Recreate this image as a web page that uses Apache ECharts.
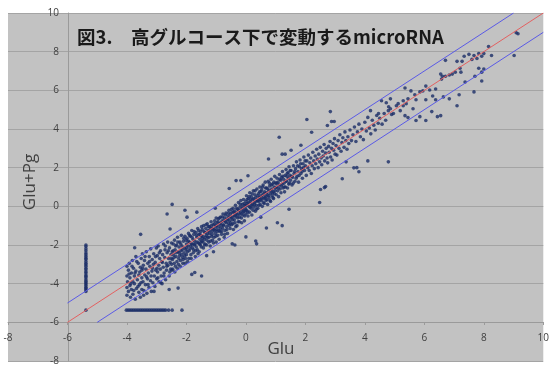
<!DOCTYPE html>
<html><head><meta charset="utf-8">
<script src="https://cdn.jsdelivr.net/npm/echarts@6/dist/echarts.min.js"></script>
<style>html,body{margin:0;padding:0;background:#fff}#c{width:552px;height:366px}</style>
</head><body><div id="c"></div>
<script>
const titleText = '図3.　高グルコース下で変動するmicroRNA';
const xName = 'Glu';
const yName = 'Glu+Pg';
const xTicks = [-8,-6,-4,-2,0,2,4,6,8,10];
const yTicks = [-8,-6,-4,-2,0,2,4,6,8,10];

const lineEqual = [[-6,-6],[10,10]];
const lineUpper = [[-6,-5],[9,10]];
const lineLower = [[-5,-6],[10,9]];

const columnPts = [[-5.38,-2.0],[-5.38,-2.08],[-5.38,-2.2],[-5.38,-2.3],[-5.38,-2.42],[-5.38,-2.5],[-5.38,-2.6],[-5.38,-2.68],[-5.38,-2.75],[-5.38,-2.85],[-5.38,-2.95],[-5.38,-3.02],[-5.38,-3.1],[-5.38,-3.2],[-5.38,-3.28],[-5.38,-3.38],[-5.38,-3.45],[-5.38,-3.55],[-5.38,-3.62],[-5.38,-3.7],[-5.38,-3.8],[-5.38,-3.88],[-5.38,-3.95],[-5.38,-4.02],[-5.38,-4.1],[-5.38,-4.18],[-5.38,-4.25],[-5.38,-4.32],[-5.38,-4.4],[-5.38,-5.37]];

const rowPts = [[-4.02,-5.37],[-3.96,-5.37],[-3.9,-5.37],[-3.84,-5.37],[-3.78,-5.37],[-3.72,-5.37],[-3.66,-5.37],[-3.6,-5.37],[-3.54,-5.37],[-3.48,-5.37],[-3.42,-5.37],[-3.36,-5.37],[-3.3,-5.37],[-3.24,-5.37],[-3.18,-5.37],[-3.12,-5.37],[-3.06,-5.37],[-3.0,-5.37],[-2.94,-5.37],[-2.88,-5.37],[-2.82,-5.37],[-2.76,-5.37],[-2.7,-5.37],[-2.6,-5.37],[-2.48,-5.37],[-2.15,-5.37]];

const lowCloud = [[-4.0,-3.1],[-4.0,-3.6],[-4.0,-4.2],[-4.0,-4.6],[-3.98,-3.9],[-3.95,-3.3],[-3.95,-4.4],[-3.92,-2.95],[-3.9,-3.7],[-3.9,-4.1],[-3.88,-4.7],[-3.85,-3.45],[-3.85,-4.3],[-3.82,-2.8],[-3.8,-3.9],[-3.8,-4.55],[-3.78,-3.2],[-3.75,-4.0],[-3.75,-3.6],[-3.72,-4.8],[-3.7,-2.6],[-3.7,-3.35],[-3.68,-4.25],[-3.65,-3.8],[-3.62,-2.95],[-3.6,-4.45],[-3.6,-3.55],[-3.58,-4.05],[-3.55,-3.15],[-3.55,-4.7],[-3.52,-2.7],[-3.5,-3.7],[-3.5,-4.3],[-3.5,-3.3],
[-3.48,-2.45],[-3.46,-3.9],[-3.45,-3.05],[-3.43,-4.35],[-3.41,-2.8],[-3.4,-3.55],[-3.38,-4.05],[-3.36,-3.25],[-3.35,-2.35],[-3.33,-4.5],[-3.31,-3.75],[-3.3,-2.95],[-3.28,-3.45],[-3.26,-4.2],[-3.25,-2.6],[-3.23,-3.1],[-3.21,-3.85],[-3.2,-2.2],[-3.18,-4.4],[-3.16,-3.35],[-3.15,-2.75],[-3.13,-3.95],[-3.11,-3.0],[-3.1,-2.45],[-3.08,-3.6],[-3.06,-4.15],[-3.05,-2.9],[-3.03,-3.3],[-3.01,-2.15],[-3.0,-3.75],
[-2.98,-2.55],[-2.97,-3.4],[-2.95,-2.05],[-2.93,-3.05],[-2.92,-3.9],[-2.9,-2.7],[-2.88,-3.25],[-2.87,-2.3],[-2.85,-3.6],[-2.83,-2.85],[-2.82,-4.0],[-2.8,-2.5],[-2.78,-3.15],[-2.77,-1.95],[-2.75,-3.45],[-2.73,-2.65],[-2.72,-2.25],[-2.7,-3.8],[-2.68,-2.95],[-2.67,-3.3],[-2.65,-2.4],[-2.63,-1.85],[-2.62,-3.05],[-2.6,-2.7],[-2.58,-3.6],[-2.57,-2.15],[-2.55,-2.9],[-2.53,-3.25],[-2.52,-2.5],[-2.5,-1.9],[-2.5,-3.0],[-2.48,-2.35],
[-3.93,-3.5],[-3.87,-4.0],[-3.83,-3.1],[-3.77,-4.35],[-3.73,-3.45],[-3.67,-2.85],[-3.63,-4.15],[-3.57,-3.4],[-3.53,-3.95],[-3.47,-3.2],[-3.44,-4.6],[-3.39,-2.6],[-3.34,-3.65],[-3.29,-4.05],[-3.24,-2.85],[-3.19,-3.6],[-3.14,-3.2],[-3.09,-4.4],[-3.04,-2.6],[-2.99,-3.2],[-2.96,-3.7],[-2.91,-2.4],[-2.86,-3.95],[-2.81,-2.9],[-2.76,-3.6],[-2.71,-2.05],[-2.66,-3.1],[-2.61,-2.3],[-2.56,-3.4],[-2.51,-2.7]];

const midCloud = [[-2.47,-2.75],[-2.46,-3.25],[-2.44,-1.95],[-2.43,-2.5],[-2.41,-2.95],[-2.4,-1.75],[-2.38,-2.25],[-2.37,-3.1],[-2.35,-2.6],[-2.33,-2.0],[-2.32,-2.85],[-2.3,-1.6],[-2.28,-2.35],[-2.27,-3.0],[-2.25,-2.1],[-2.23,-2.55],[-2.22,-1.85],[-2.2,-2.8],[-2.18,-2.3],[-2.17,-1.5],[-2.15,-2.05],[-2.13,-2.65],[-2.12,-2.95],[-2.1,-1.8],[-2.08,-2.4],[-2.07,-2.15],[-2.05,-1.55],[-2.03,-2.7],[-2.02,-2.25],[-2.0,-1.95],[-2.0,-2.5],
[-1.98,-1.65],[-1.97,-2.35],[-1.95,-2.05],[-1.93,-1.4],[-1.92,-2.7],[-1.9,-1.85],[-1.88,-2.2],[-1.87,-1.55],[-1.85,-2.5],[-1.83,-1.95],[-1.82,-1.25],[-1.8,-2.15],[-1.78,-1.7],[-1.77,-2.4],[-1.75,-1.45],[-1.73,-2.0],[-1.72,-1.8],[-1.7,-2.6],[-1.68,-1.35],[-1.67,-2.1],[-1.65,-1.6],[-1.63,-2.25],[-1.62,-1.15],[-1.6,-1.9],[-1.58,-1.45],[-1.57,-2.35],[-1.55,-1.7],[-1.53,-2.0],[-1.52,-1.3],[-1.5,-1.55],[-1.5,-2.1],
[-1.48,-1.8],[-1.47,-1.2],[-1.45,-1.55],[-1.43,-2.15],[-1.42,-1.0],[-1.4,-1.7],[-1.38,-1.35],[-1.37,-1.95],[-1.35,-1.15],[-1.33,-1.5],[-1.32,-2.0],[-1.3,-0.9],[-1.28,-1.6],[-1.27,-1.25],[-1.25,-1.85],[-1.23,-1.05],[-1.22,-1.4],[-1.2,-2.05],[-1.18,-1.15],[-1.17,-0.8],[-1.15,-1.55],[-1.13,-1.3],[-1.12,-1.75],[-1.1,-0.95],[-1.08,-1.2],[-1.07,-1.6],[-1.05,-0.75],[-1.03,-1.4],[-1.02,-1.05],[-1.0,-1.85],[-1.0,-0.6],
[-0.98,-1.2],[-0.97,-0.85],[-0.95,-1.5],[-0.93,-0.65],[-0.92,-1.05],[-0.9,-1.7],[-0.88,-0.9],[-0.87,-1.3],[-0.85,-0.55],[-0.83,-1.0],[-0.82,-1.45],[-0.8,-0.75],[-0.78,-1.15],[-0.77,-0.4],[-0.75,-0.95],[-0.73,-1.6],[-0.72,-0.6],[-0.7,-1.25],[-0.68,-0.8],[-0.67,-0.35],[-0.65,-1.05],[-0.63,-0.65],[-0.62,-1.4],[-0.6,-0.5],[-0.58,-0.9],[-0.57,-0.2],[-0.55,-0.75],[-0.53,-1.15],[-0.52,-0.4],[-0.5,-0.6],
[-0.48,-0.95],[-0.47,-0.3],[-0.45,-0.7],[-0.43,-0.1],[-0.42,-1.2],[-0.4,-0.5],[-0.38,-0.25],[-0.37,-0.85],[-0.35,0.05],[-0.33,-0.55],[-0.32,-0.35],[-0.3,-1.0],[-0.28,-0.15],[-0.27,-0.6],[-0.25,0.2],[-0.23,-0.4],[-0.22,-0.8],[-0.2,-0.05],[-0.18,-0.3],[-0.17,0.3],[-0.15,-0.6],[-0.13,-0.15],[-0.12,0.1],[-0.1,-0.45],[-0.08,0.35],[-0.07,-0.25],[-0.05,-0.75],[-0.03,0.05],[-0.02,-0.1],[0.0,0.25],[0.0,-0.4],
[-2.49,-3.3],[-2.45,-2.3],[-2.42,-2.65],[-2.39,-3.4],[-2.36,-2.05],[-2.34,-2.4],[-2.31,-3.2],[-2.29,-1.85],[-2.26,-2.7],[-2.24,-2.4],[-2.21,-3.1],[-2.19,-1.95],[-2.16,-2.5],[-2.14,-2.25],[-2.11,-2.75],[-2.09,-1.65],[-2.06,-2.55],[-2.04,-2.95],[-2.01,-1.75],[-1.99,-2.15],[-1.96,-2.85],[-1.94,-1.8],[-1.91,-2.3],[-1.89,-1.5],[-1.86,-2.05],[-1.84,-2.7],[-1.81,-1.6],[-1.79,-1.95],[-1.76,-2.25],[-1.74,-1.3],[-1.71,-1.95],[-1.69,-2.3],[-1.66,-1.5],[-1.64,-1.85],[-1.61,-2.45],[-1.59,-1.25],[-1.56,-1.95],[-1.54,-1.45],[-1.51,-1.85],[-1.49,-1.05],[-1.46,-1.65],[-1.44,-1.85],[-1.41,-1.3],[-1.39,-2.0],[-1.36,-1.6],[-1.34,-0.95],[-1.31,-1.75],[-1.29,-1.4],[-1.26,-1.05],[-1.24,-1.6],[-1.21,-1.25],[-1.19,-1.8],[-1.16,-1.0],[-1.14,-1.45],[-1.11,-1.15],[-1.09,-1.9],[-1.06,-0.9],[-1.04,-1.25],[-1.01,-1.55],
[-0.99,-1.0],[-0.96,-1.3],[-0.94,-0.8],[-0.91,-1.25],[-0.89,-0.6],[-0.86,-1.15],[-0.84,-0.85],[-0.81,-1.3],[-0.79,-0.55],[-0.76,-1.0],[-0.74,-0.75],[-0.71,-1.45],[-0.69,-0.45],[-0.66,-0.85],[-0.64,-1.2],[-0.61,-0.7],[-0.59,-0.35],[-0.56,-1.0],[-0.54,-0.55],[-0.51,-0.85],[-0.49,-0.15],[-0.46,-0.55],[-0.44,-0.9],[-0.41,-0.3],[-0.39,-0.7],[-0.36,-0.45],[-0.34,-1.05],[-0.31,-0.1],[-0.29,-0.45],[-0.26,-0.8],[-0.24,-0.2],[-0.21,-0.55],[-0.19,0.1],[-0.16,-0.4],[-0.14,-0.85],[-0.11,-0.05],[-0.09,-0.3],[-0.06,0.15],[-0.04,-0.5],[-0.01,-0.2]];

const highCloud = [[0.02,0.55],[0.03,-0.2],[0.05,0.15],[0.07,-0.5],[0.08,0.4],[0.1,0.0],[0.12,-0.3],[0.13,0.7],[0.15,0.25],[0.17,-0.1],[0.18,0.5],[0.2,-0.45],[0.22,0.1],[0.23,0.35],[0.25,0.8],[0.27,-0.05],[0.28,0.2],[0.3,0.6],[0.32,-0.25],[0.33,0.45],[0.35,0.05],[0.37,0.9],[0.38,0.3],[0.4,-0.1],[0.42,0.65],[0.43,0.25],[0.45,0.45],[0.47,1.0],[0.48,0.1],[0.5,0.55],
[0.52,0.3],[0.53,0.85],[0.55,0.0],[0.57,0.6],[0.58,1.1],[0.6,0.4],[0.62,0.15],[0.63,0.75],[0.65,1.25],[0.67,0.5],[0.68,0.3],[0.7,0.95],[0.72,0.6],[0.73,0.1],[0.75,1.3],[0.77,0.8],[0.78,0.45],[0.8,1.05],[0.82,0.65],[0.83,0.25],[0.85,1.4],[0.87,0.9],[0.88,0.55],[0.9,1.15],[0.92,0.75],[0.93,0.4],[0.95,1.0],[0.97,1.55],[0.98,0.8],[1.0,1.2],
[1.02,0.6],[1.03,1.0],[1.05,1.45],[1.07,0.8],[1.08,1.25],[1.1,0.5],[1.12,1.1],[1.13,1.65],[1.15,0.9],[1.17,1.35],[1.18,0.7],[1.2,1.5],[1.22,1.15],[1.23,1.8],[1.25,0.95],[1.27,1.4],[1.28,1.2],[1.3,0.75],[1.32,1.6],[1.33,1.0],[1.35,1.9],[1.37,1.3],[1.38,1.55],[1.4,0.95],[1.42,1.75],[1.43,1.45],[1.45,2.05],[1.47,1.2],[1.48,1.6],[1.5,1.35],
[1.52,1.85],[1.55,1.1],[1.57,1.5],[1.6,2.1],[1.62,1.7],[1.65,1.3],[1.67,1.95],[1.7,2.3],[1.72,1.55],[1.75,1.8],[1.77,1.25],[1.8,2.05],[1.82,2.4],[1.85,1.7],[1.87,1.95],[1.9,1.45],[1.92,2.2],[1.95,2.55],[1.97,1.85],[2.0,2.1],
[0.01,0.05],[0.04,0.35],[0.06,-0.3],[0.09,0.2],[0.11,0.5],[0.14,-0.05],[0.16,0.35],[0.19,0.05],[0.21,0.65],[0.24,-0.2],[0.26,0.4],[0.29,0.1],[0.31,0.8],[0.34,0.25],[0.36,-0.15],[0.39,0.55],[0.41,0.3],[0.44,0.05],[0.46,0.75],[0.49,0.35],
[0.51,0.75],[0.54,0.45],[0.56,1.0],[0.59,0.2],[0.61,0.65],[0.64,0.45],[0.66,0.95],[0.69,0.7],[0.71,0.35],[0.74,0.9],[0.76,0.55],[0.79,1.2],[0.81,0.3],[0.84,0.8],[0.86,1.1],[0.89,0.7],[0.91,0.45],[0.94,1.25],[0.96,0.65],[0.99,0.95],[1.04,1.2],[1.09,0.95],[1.14,1.4],[1.19,1.05],[1.24,1.55],[1.29,1.0],[1.34,1.3],[1.39,1.7],[1.44,1.15],[1.49,1.85],[1.54,1.55],[1.59,1.2],[1.64,1.8],[1.69,1.45],[1.74,2.1],[1.79,1.6],[1.84,2.2],[1.89,1.8],[1.94,2.0],[1.99,2.35],
[2.03,1.6],[2.05,2.35],[2.08,2.0],[2.1,2.65],[2.13,1.85],[2.15,2.25],[2.18,2.5],[2.2,1.7],[2.23,2.1],[2.25,2.8],[2.28,2.35],[2.3,1.95],[2.33,2.6],[2.35,2.2],[2.38,2.95],[2.4,2.45],[2.43,2.0],[2.45,2.7],[2.48,2.3],[2.5,3.05],
[2.53,2.5],[2.55,2.15],[2.58,2.85],[2.6,2.6],[2.63,3.2],[2.65,2.35],[2.68,2.75],[2.7,3.0],[2.73,2.5],[2.75,2.25],[2.78,3.1],[2.8,2.8],[2.83,3.35],[2.85,2.55],[2.88,3.0],[2.9,2.4],[2.93,3.25],[2.95,2.9],[2.98,3.5],[3.0,2.7],
[3.03,3.15],[3.06,2.65],[3.1,3.4],[3.13,3.0],[3.16,3.7],[3.2,2.85],[3.23,3.3],[3.26,3.55],[3.3,3.05],[3.33,3.85],[3.36,3.4],[3.4,2.95],[3.43,3.6],[3.46,3.25],[3.5,3.95],
[3.55,3.4],[3.6,3.7],[3.65,4.1],[3.7,3.35],[3.75,3.85],[3.8,4.25],[3.85,3.6],[3.9,4.0],[3.95,3.45],[4.0,4.35],[4.05,3.9],[4.1,4.6],[4.15,4.05],[4.2,3.75],[4.25,4.45],[4.3,4.2],[4.35,3.95],[4.4,4.7],[4.45,4.3],[4.5,4.55],
[4.58,4.25],[4.65,4.8],[4.7,4.45],[4.8,5.15],[4.9,4.75],[4.46,4.8],[4.79,4.95],[4.19,4.95],[4.56,5.46]];

const topCloud = [[9.09,8.98],[9.15,8.93],[9.02,7.8],[8.16,8.27],[8.0,7.9],[8.26,7.8],[7.83,7.9],[7.67,7.8],[7.5,7.86],[7.34,7.76],[7.27,7.5],[7.6,7.6],[7.77,7.65],[7.93,7.76],[8.0,7.1],[7.83,7.14],[7.93,6.48],[7.7,6.73],[7.37,6.43],[7.67,5.92],[7.17,5.77],[7.1,5.2],[6.71,7.55],[7.1,7.5],[7.2,7.14],[7.23,6.94],[7.04,6.94],[6.94,6.84],[6.84,6.79],[6.71,6.73],[6.61,6.73],[6.58,6.58],[6.55,6.84],[6.64,5.66],[6.84,5.56],[6.28,5.71],[6.05,6.22],[6.18,6.02],[5.85,5.92],[6.38,6.07],[5.95,5.97],[5.68,5.77],[5.55,5.97],[5.35,6.12],[5.72,5.51],[6.05,5.51],[6.38,5.51],[5.45,5.56],[5.29,5.46],[5.12,5.31],[5.06,5.2],[5.39,5.31],[5.29,5.2],[4.86,5.56],[4.72,5.36],[5.62,5.05],[5.85,4.64],[6.05,4.44],[6.44,4.64],[6.55,4.69],[6.25,4.9],[5.72,4.44],[5.19,4.95],[4.96,4.8],[4.86,5.05],[5.35,4.69],[5.45,4.59],[7.93,6.94]];

const outlierPts = [[-2.48,0.1],[-2.65,-0.4],[-2.05,-0.2],[-1.98,-0.56],[-1.65,-0.3],[-2.55,-1.17],[-3.54,-1.45],[-3.74,-2.14],[-1.82,-3.52],[-1.49,-3.6],[-2.28,-4.23],[-2.58,-4.3],[-1.72,-3.42],[-1.32,-2.55],[-1.09,-2.35],
[0.76,2.45],[1.22,2.7],[-0.56,0.92],[-0.33,1.33],[-0.17,1.33],[0.07,1.58],[-1.03,-0.1],[1.45,-0.15],[1.06,-0.85],[0.36,-1.94],[0.0,-1.58],[-0.37,-2.0],[-0.46,-1.94],[0.69,-1.12],[1.22,-1.0],[0.5,-0.56],
[2.84,4.9],[2.05,4.49],[2.21,3.83],[1.12,3.57],[1.32,2.7],[4.79,2.3],[4.1,2.35],[3.73,2.0],[2.48,0.2],[2.64,0.97],[0.33,-1.79],[2.88,4.39],[2.74,4.18],[2.97,4.39],[1.85,3.16],[1.52,2.9],[3.8,1.79],[3.37,2.3],[3.63,1.99],[2.51,0.87],[2.68,1.02],[3.24,1.43]];

const chart = echarts.init(document.getElementById('c'), null, {renderer: 'canvas'});
const txt = '#404040';
const dot = '#1a2d66';
const allPts = [].concat(lowCloud, midCloud, highCloud, topCloud, outlierPts);
function scat(d){ return {type:'scatter', data:d, symbol:'circle', symbolSize:3.6, itemStyle:{color:dot}, silent:true, z:3}; }
function ln(d,c){ return {type:'line', data:d, symbol:'none', lineStyle:{color:c, width:1}, silent:true, z:4}; }
chart.setOption({
  animation:false,
  backgroundColor:'#ffffff',
  grid:{left:8, top:13, right:0, bottom:0, show:true, backgroundColor:'#c2c2c2', borderWidth:0},
  xAxis:{type:'value', min:-8, max:10, interval:2, offset:-39,
    axisLine:{show:true, onZero:false, lineStyle:{color:'#9a9a9a', width:1}},
    axisTick:{show:true, length:3, lineStyle:{color:'#9a9a9a'}},
    axisLabel:{color:txt, fontSize:10, fontFamily:'Open Sans', margin:11, showMinLabel:true, showMaxLabel:true,
      formatter:v=>xTicks.includes(v)?String(v):''},
    splitLine:{show:false}},
  yAxis:{type:'value', min:-8, max:10, interval:2, offset:-60,
    axisLine:{show:true, onZero:false, lineStyle:{color:'#9a9a9a', width:1}},
    axisTick:{show:false},
    axisLabel:{color:txt, fontSize:10, fontFamily:'Open Sans', margin:9, showMinLabel:true, showMaxLabel:true,
      formatter:v=>yTicks.includes(v)?String(v):''},
    splitLine:{show:true, lineStyle:{color:'#a4a4a4', width:1}}},
  graphic:[
    {type:'text', left:77, top:28, style:{text:titleText, font:'bold 18.5px "Noto Sans CJK JP"', fill:'#1a1a1a'}, z:10},
    {type:'text', x:30, y:182, rotation:Math.PI/2, style:{text:yName, font:'17px "Open Sans"', fill:txt, textAlign:'center', textVerticalAlign:'middle'}, z:10},
    {type:'text', x:281, y:349, style:{text:xName, font:'17px "Open Sans"', fill:txt, textAlign:'center', textVerticalAlign:'middle'}, z:10}
  ],
  series:[
    scat(columnPts), scat(rowPts), scat(allPts),
    ln(lineEqual,'#e36060'), ln(lineUpper,'#5a5ae6'), ln(lineLower,'#5a5ae6')
  ]
});
</script></body></html>
